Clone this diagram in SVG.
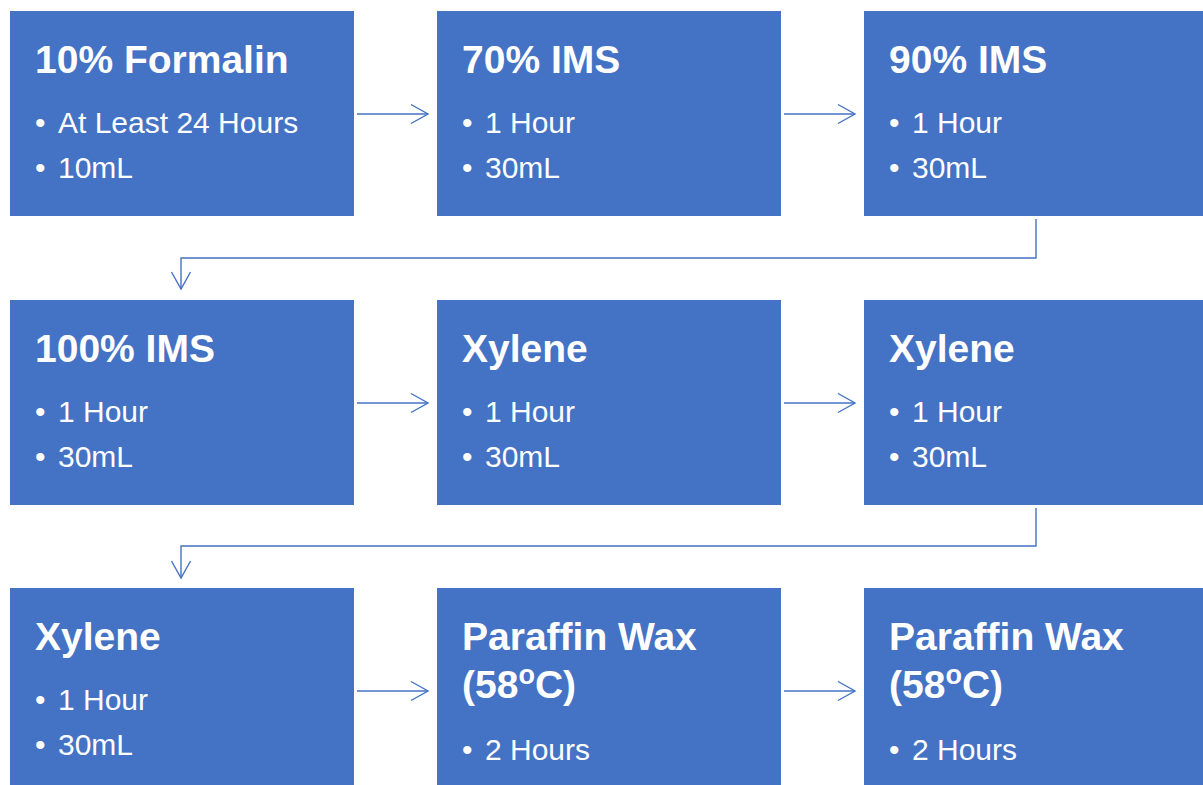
<svg xmlns="http://www.w3.org/2000/svg" width="1203" height="785" viewBox="0 0 1203 785">
  <style>
    .box { fill: #4472C4; }
    .t { font-family: "Liberation Sans", Arial, sans-serif; font-weight: bold; font-size: 39px; fill: #ffffff; }
    .b { font-family: "Liberation Sans", Arial, sans-serif; font-size: 30px; fill: #ffffff; }
    .c { fill: none; stroke: #4472C4; stroke-width: 1.4; }
  </style>
  <defs>
    <marker id="arr" markerUnits="userSpaceOnUse" markerWidth="24" markerHeight="24" viewBox="-20 -12 24 24" refX="0" refY="0" orient="auto">
      <path d="M-17,-9.5 L0,0 L-17,9.5" fill="none" stroke="#4472C4" stroke-width="1.4"/>
    </marker>
  </defs>
  <rect width="1203" height="785" fill="#ffffff"/>

  <g id="n1"><rect class="box" x="10" y="11" width="344" height="205"/>
    <text class="t" x="35" y="73">10% Formalin</text>
    <text class="b" x="35" y="133">•</text><text class="b" x="58" y="133">At Least 24 Hours</text>
    <text class="b" x="35" y="178">•</text><text class="b" x="58" y="178">10mL</text></g>
  <g id="n2"><rect class="box" x="437" y="11" width="344" height="205"/>
    <text class="t" x="462" y="73">70% IMS</text>
    <text class="b" x="462" y="133">•</text><text class="b" x="485" y="133">1 Hour</text>
    <text class="b" x="462" y="178">•</text><text class="b" x="485" y="178">30mL</text></g>
  <g id="n3"><rect class="box" x="864" y="11" width="344" height="205"/>
    <text class="t" x="889" y="73">90% IMS</text>
    <text class="b" x="889" y="133">•</text><text class="b" x="912" y="133">1 Hour</text>
    <text class="b" x="889" y="178">•</text><text class="b" x="912" y="178">30mL</text></g>

  <g id="n4"><rect class="box" x="10" y="300" width="344" height="205"/>
    <text class="t" x="35" y="362">100% IMS</text>
    <text class="b" x="35" y="422">•</text><text class="b" x="58" y="422">1 Hour</text>
    <text class="b" x="35" y="467">•</text><text class="b" x="58" y="467">30mL</text></g>
  <g id="n5"><rect class="box" x="437" y="300" width="344" height="205"/>
    <text class="t" x="462" y="362">Xylene</text>
    <text class="b" x="462" y="422">•</text><text class="b" x="485" y="422">1 Hour</text>
    <text class="b" x="462" y="467">•</text><text class="b" x="485" y="467">30mL</text></g>
  <g id="n6"><rect class="box" x="864" y="300" width="344" height="205"/>
    <text class="t" x="889" y="362">Xylene</text>
    <text class="b" x="889" y="422">•</text><text class="b" x="912" y="422">1 Hour</text>
    <text class="b" x="889" y="467">•</text><text class="b" x="912" y="467">30mL</text></g>

  <g id="n7"><rect class="box" x="10" y="588" width="344" height="205"/>
    <text class="t" x="35" y="650">Xylene</text>
    <text class="b" x="35" y="710">•</text><text class="b" x="58" y="710">1 Hour</text>
    <text class="b" x="35" y="755">•</text><text class="b" x="58" y="755">30mL</text></g>
  <g id="n8"><rect class="box" x="437" y="588" width="344" height="205"/>
    <text class="t" x="462" y="650">Paraffin Wax</text>
    <text class="t" x="462" y="698">(58<tspan font-size="27" dy="-14">o</tspan><tspan dy="14">C)</tspan></text>
    <text class="b" x="462" y="760">•</text><text class="b" x="485" y="760">2 Hours</text></g>
  <g id="n9"><rect class="box" x="864" y="588" width="344" height="205"/>
    <text class="t" x="889" y="650">Paraffin Wax</text>
    <text class="t" x="889" y="698">(58<tspan font-size="27" dy="-14">o</tspan><tspan dy="14">C)</tspan></text>
    <text class="b" x="889" y="760">•</text><text class="b" x="912" y="760">2 Hours</text></g>

  <g id="connectors">
    <path class="c" d="M357,114 H428" marker-end="url(#arr)"/>
    <path class="c" d="M784,114 H855" marker-end="url(#arr)"/>
    <path class="c" d="M1036,219 V258 H181 V289" marker-end="url(#arr)"/>
    <path class="c" d="M357,403 H428" marker-end="url(#arr)"/>
    <path class="c" d="M784,403 H855" marker-end="url(#arr)"/>
    <path class="c" d="M1036,508 V546 H181 V578" marker-end="url(#arr)"/>
    <path class="c" d="M357,691 H428" marker-end="url(#arr)"/>
    <path class="c" d="M784,691 H855" marker-end="url(#arr)"/>
  </g>
</svg>
